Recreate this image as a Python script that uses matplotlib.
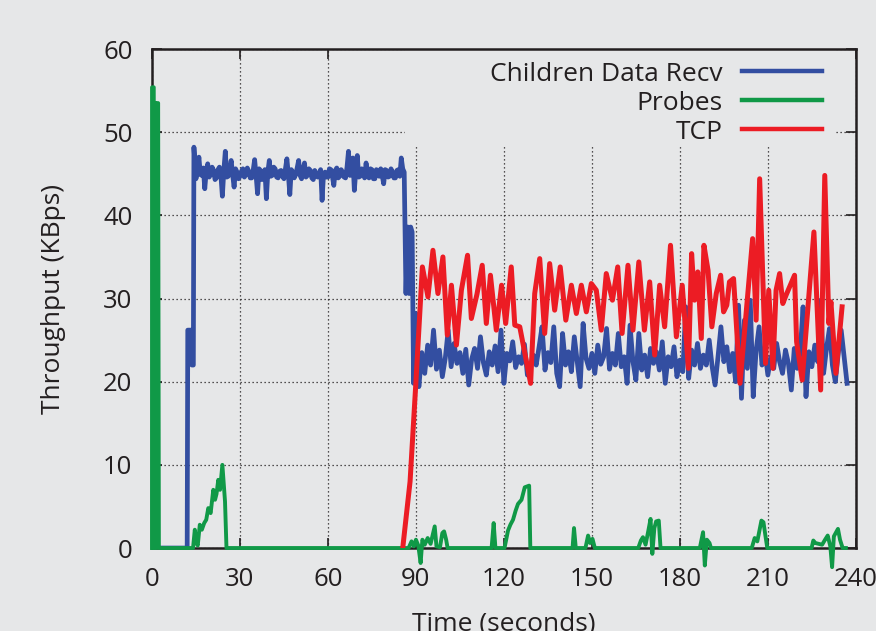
import numpy as np
import matplotlib
matplotlib.use("Agg")
import matplotlib.pyplot as plt
from matplotlib.patches import Rectangle

# Children Data Recv (blue): start-up, plateau near 45 (half-second samples), drop, level near 22
blue_start_t = [0, 12.0, 12.2, 13.3, 13.6, 14.1, 14.3]
blue_start_v = [0, 0, 26.2, 26.2, 22.0, 22.0, 48.2]

blue_high_t = np.arange(15, 86.01, 0.5)
blue_high_v = [44.4, 45.6, 47.0, 44.9, 44.8, 45.7, 43.2, 45.3, 46.2, 44.6,
               44.9, 45.8, 45.4, 44.3, 44.5, 45.5, 45.8, 44.8, 42.3, 45.4,
               47.7, 44.6, 44.7, 45.5, 46.6, 44.9, 43.4, 45.6, 45.2, 44.4,
               44.7, 45.3, 45.6, 44.6, 44.9, 45.7, 45.3, 44.5, 44.5, 45.4,
               46.7, 44.8, 42.6, 45.6, 45.4, 44.3, 44.8, 45.5, 42.0, 45.2,
               46.6, 44.7, 44.8, 45.8, 45.6, 44.6, 44.5, 45.3, 45.4, 44.7,
               44.4, 45.6, 46.8, 44.9, 42.5, 45.5, 45.2, 44.5, 44.9, 45.7,
               46.6, 44.8, 44.4, 45.5, 46.3, 44.6, 44.8, 45.6, 45.4, 44.5,
               44.3, 45.4, 45.1, 44.6, 44.7, 45.5, 41.8, 45.0, 45.2, 44.6,
               44.6, 45.6, 45.5, 44.7, 43.6, 45.4, 45.7, 44.5, 44.7, 45.5,
               45.2, 44.6, 44.5, 45.8, 47.7, 44.8, 44.9, 46.9, 43.0, 45.4,
               47.2, 44.6, 44.7, 45.6, 45.3, 44.5, 46.3, 44.9, 44.5, 45.6,
               45.5, 44.4, 44.4, 45.5, 45.2, 44.7, 45.6, 44.8, 43.8, 45.5,
               45.4, 44.6, 44.7, 45.6, 45.2, 44.5, 44.5, 45.4, 45.5, 44.7,
               46.9, 45.6, 45.2]

blue_drop_t = [86.6, 87.2, 87.7, 88.2, 88.7, 89.2, 90.0]
blue_drop_v = [30.6, 38.6, 30.6, 38.6, 38.0, 19.8, 28.2]

blue_low_t = list(range(91, 238))
blue_low_v = [19.4, 23.5, 21.0, 24.4, 22.0, 26.2, 21.5, 23.8, 20.6, 22.8,
              26.2, 21.8, 24.6, 22.2, 23.5, 21.0, 23.9, 19.6, 22.7, 24.0,
              21.6, 25.4, 22.3, 20.8, 23.6, 22.0, 24.3, 21.2, 26.2, 19.8,
              23.4, 22.5, 24.8, 21.7, 23.0, 22.2, 24.5, 20.8, 21.8, 23.2,
              22.0, 24.2, 26.6, 21.4, 23.5, 22.3, 26.6, 21.0, 19.4, 25.8,
              22.0, 23.6, 21.2, 25.4, 22.4, 19.4, 27.0, 22.8, 21.6, 23.4,
              21.0, 24.4, 22.1, 23.0, 26.4, 21.5, 23.4, 22.0, 25.8, 21.8,
              23.0, 19.8, 26.8, 22.4, 20.2, 25.8, 21.4, 23.2, 20.6, 24.0,
              22.2, 23.6, 21.4, 24.8, 19.8, 23.0, 21.8, 24.2, 20.6, 22.6,
              21.2, 29.0, 20.4, 23.8, 22.0, 24.6, 21.6, 23.2, 22.0, 25.0,
              21.8, 19.6, 23.0, 26.6, 22.4, 24.2, 21.2, 23.4, 20.0, 29.2,
              18.0, 27.4, 21.6, 29.8, 18.2, 23.8, 26.6, 22.0, 23.6, 20.8,
              23.0, 21.6, 24.6, 22.4, 21.0, 23.8, 22.2, 19.0, 24.0, 21.6,
              23.4, 29.0, 18.2, 23.6, 21.8, 24.4, 22.4, 29.8, 21.0, 24.0,
              26.4, 22.0, 20.0, 23.4, 26.2, 23.0, 19.8]

blue_t = blue_start_t + list(blue_high_t) + blue_drop_t + blue_low_t
blue_v = blue_start_v + blue_high_v + blue_drop_v + blue_low_v

# Probes (green)
green_t = [0.0, 0.02, 0.6, 0.9, 1.2, 1.5, 1.8, 2.1, 2.35,
           14.0, 14.6, 15.2, 15.6, 16.3, 17.0, 17.8,
           18.5, 19.2, 20.0, 20.9, 21.5, 22.0, 22.6, 23.2, 24.0, 24.9, 25.4,
           87.5, 88.5, 89.3, 90.0, 90.8, 91.6, 92.2, 93.0, 94.0, 95.0, 96.4,
           97.0, 98.2, 99.0, 99.6, 100.3, 100.8,
           115.8, 116.5, 117.1, 120.2, 121.4, 122.2, 123.1, 124.0, 124.8,
           126.0, 127.1, 128.6, 129.0,
           143.4, 143.9, 144.5, 147.8, 148.7, 149.4, 150.2, 151.0,
           165.8, 166.7, 167.4, 168.3, 169.2, 170.0, 170.6, 171.3, 171.9,
           172.8, 173.4, 186.8, 187.9, 188.5, 189.2, 190.1, 190.6,
           204.5, 205.5, 206.4, 207.8, 208.5, 209.2, 209.8,
           224.9, 225.5, 226.2, 228.5, 229.5, 230.4, 231.3, 231.9, 232.5,
           233.9, 234.6, 235.5, 236.6]
green_v = [0, 55.4, 55.4, 0, 53.5, 0, 53.5, 53.5, 0,
           0, 2.2, 0.6, 0.3, 2.8, 2.2, 3.0,
           3.4, 4.8, 4.2, 7.0, 5.8, 6.5, 8.2, 7.0, 10.0, 5.6, 0,
           0, 0.8, 0.2, 1.0, 0.3, -1.8, 1.0, 0.4, 1.2, 0.5, 2.6,
           0.2, 0.1, 1.8, 2.0, 1.0, 0,
           0, 3.0, 0, 0, 2.1, 2.8, 3.4, 4.5, 5.3,
           5.8, 7.3, 7.5, 0,
           0, 2.4, 0, 0, 1.5, 0.6, 1.1, 0,
           0, 0.9, 1.3, 0.4, 2.0, 3.5, -0.7, 2.4, 3.2,
           3.3, 0, 0, 1.9, -2.1, 1.0, 0.6, 0,
           0, 1.2, 0.8, 3.3, 3.1, 1.4, 0,
           0, 0.9, 0.6, 0.4, 1.0, 1.5, 0.2, -2.3, 1.4,
           2.3, 1.0, 0, 0]

# TCP (red)
red_t = [85.5, 88.0, 90.0, 92.2, 94.1, 95.8, 97.5, 99.2, 100.7, 102.1, 103.8,
         105.5, 107.6, 108.9, 110.8, 112.6, 114.0, 115.4, 117.4, 119.2, 120.6,
         122.5, 123.7, 125.4, 129.1, 130.5, 132.2, 133.9, 135.6, 137.3, 139.2,
         141.1, 143.0, 144.7, 146.4, 148.1, 149.8, 151.5, 153.2, 154.9, 157.0,
         158.8, 160.3, 162.3, 164.0, 166.0, 167.9, 169.7, 171.4, 173.1, 174.8,
         176.8, 178.8, 180.8, 182.9, 184.0, 185.0, 186.1, 187.3, 188.2, 189.6,
         190.9, 192.4, 193.9, 194.9, 196.0, 196.9, 198.3, 200.5, 204.8, 206.0,
         207.2, 209.2, 210.3, 211.7, 212.8, 214.0, 215.1, 216.2, 219.1, 219.8,
         221.7, 225.7, 228.0, 229.4, 230.8, 231.5, 233.2, 235.3]
red_v = [0, 8.0, 20.0, 33.8, 30.2, 35.8, 30.6, 35.0, 25.6, 31.6, 24.4,
         31.0, 35.2, 27.6, 30.5, 34.0, 27.0, 32.8, 26.2, 31.6, 27.0,
         33.8, 26.8, 26.6, 19.8, 30.6, 34.8, 25.8, 34.2, 28.6, 33.8,
         27.4, 31.6, 28.2, 31.6, 28.4, 31.8, 31.0, 26.2, 33.0, 29.8,
         33.8, 25.8, 34.0, 26.2, 34.4, 26.2, 32.0, 23.2, 31.6, 26.6,
         36.4, 25.4, 31.6, 21.6, 35.4, 29.8, 33.2, 25.2, 36.4, 33.4,
         26.6, 30.6, 32.8, 28.4, 29.2, 32.0, 32.4, 19.8, 37.2, 27.4,
         44.4, 22.2, 31.0, 21.6, 31.0, 33.0, 29.4, 30.4, 32.8, 24.8,
         20.2, 38.0, 19.0, 44.8, 27.0, 29.6, 21.0, 29.0]

x_ticks = list(range(0, 241, 30))
y_ticks = list(range(0, 61, 10))

bg = '#e6e7e8'
ink = '#231f20'

plt.rcParams['font.family'] = ['Open Sans', 'DejaVu Sans']

fig = plt.figure(figsize=(8.76, 6.31), dpi=100, facecolor=bg)
ax = fig.add_axes([0.1735, 0.1315, 0.8035, 0.7908])
ax.set_facecolor(bg)

ax.plot(blue_t, blue_v, color='#334ea1', lw=3.4, label='Children Data Recv', zorder=3)
ax.plot(green_t, green_v, color='#109947', lw=2.8, label='Probes', zorder=4, clip_on=False)
ax.plot(red_t, red_v, color='#ec1c24', lw=3.6, label='TCP', zorder=5)

ax.set_xlim(0, 240)
ax.set_ylim(0, 60)
ax.set_xticks(x_ticks)
ax.set_yticks(y_ticks)
ax.set_axisbelow(True)
ax.grid(True, color=ink, lw=0.9, linestyle=(0, (1, 2.2)))

# blank the grid behind the key, as in the original
ax.add_patch(Rectangle((0.359, 0.804), 0.613, 0.2, transform=ax.transAxes,
                       facecolor=bg, edgecolor='none', zorder=1))

ax.tick_params(direction='in', top=True, right=True, length=7, width=1.2,
               colors=ink, labelsize=18.5)
ax.tick_params(axis='x', pad=14)
ax.tick_params(axis='y', pad=14)
for s in ax.spines.values():
    s.set_linewidth(1.8)
    s.set_color(ink)

ax.set_xlabel('Time (seconds)', fontsize=19, color=ink, labelpad=14)
ax.set_ylabel('Throughput (KBps)', fontsize=19, color=ink, labelpad=27)

leg = ax.legend(loc='upper right', bbox_to_anchor=(0.9627, 0.9906),
                markerfirst=False, frameon=False, fontsize=19,
                handlelength=3.03, handletextpad=0.72, labelspacing=0.15,
                borderaxespad=0, borderpad=0.3)
for t in leg.get_texts():
    t.set_color(ink)
for h in leg.get_lines():
    h.set_linewidth(3.2)

fig.savefig('out.png', dpi=100, facecolor=bg)
